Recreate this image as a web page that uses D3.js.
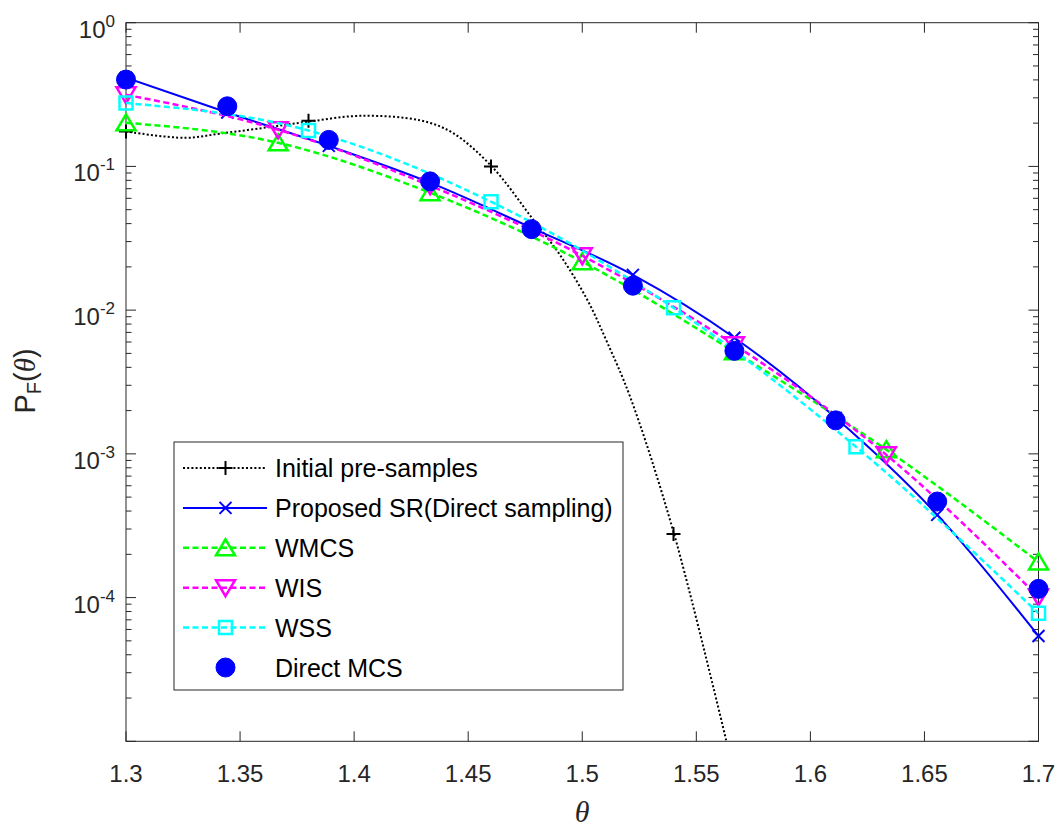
<!DOCTYPE html>
<html>
<head>
<meta charset="utf-8">
<script src="https://cdn.jsdelivr.net/npm/d3@7"></script>
<style>
  body { margin: 0; background: #fff; }
  svg { display: block; font-family: "Liberation Sans", Arial, sans-serif; }
</style>
</head>
<body>
<div id="chart"></div>
<script>
// ---- data ----
// Direct MCS / Proposed SR share the same theta grid
const thetaMCS = [1.3, 1.3444, 1.3889, 1.4333, 1.4778, 1.5222, 1.5667, 1.6111, 1.6556, 1.7];
const pfMCS = [0.402, 0.262, 0.153, 0.0787, 0.0366, 0.0148, 0.00521, 0.00171, 4.66e-4, 1.15e-4];
const pfSR = [0.414, 0.237, 0.139, 0.0771, 0.0374, 0.0176, 0.00643, 0.00178, 3.76e-4, 5.41e-5];

// WMCS / WIS grid
const thetaW = [1.3, 1.3667, 1.4333, 1.5, 1.5667, 1.6333, 1.7];
const pfWMCS = [0.201, 0.146, 0.0656, 0.0217, 0.00513, 0.00107, 1.77e-4];
const pfWIS = [0.315, 0.18, 0.0735, 0.0239, 0.00574, 9.84e-4, 1.01e-4];

// WSS grid (same as the pre-samples)
const thetaSS = [1.3, 1.38, 1.46, 1.54, 1.62, 1.7];
const pfWSS = [0.276, 0.178, 0.0568, 0.0104, 0.00112, 7.78e-5];

// initial pre-samples: markers and the dotted curve
const thetaPre = [1.3, 1.38, 1.46, 1.54];
const pfPre = [0.175, 0.208, 0.1, 2.77e-4];
const thetaPreCurve = [1.3, 1.326, 1.341, 1.362, 1.381, 1.403, 1.429, 1.443, 1.4605, 1.4785, 1.4904, 1.5022, 1.511, 1.521, 1.54, 1.5632];
const pfPreCurve = [0.175, 0.158, 0.169, 0.187, 0.206, 0.225, 0.209, 0.172, 0.0993, 0.0426, 0.024, 0.0118, 0.00593, 0.00249, 2.86e-4, 1e-5];

const xTicks = [1.3, 1.35, 1.4, 1.45, 1.5, 1.55, 1.6, 1.65, 1.7];
const yDecades = [-5, -4, -3, -2, -1, 0];

const legendLabels = ["Initial pre-samples", "Proposed SR(Direct sampling)", "WMCS", "WIS", "WSS", "Direct MCS"];

// ---- layout ----
const width = 1063;
const height = 831;
const plot = { left: 126, right: 1038.5, top: 22.7, bottom: 741.3 };
const axisColor = "#262626";

const svg = d3
  .select("#chart")
  .append("svg")
  .attr("width", width)
  .attr("height", height);

const x = d3.scaleLinear().domain([1.3, 1.7]).range([plot.left, plot.right]);
const y = d3.scaleLog().domain([1e-5, 1]).range([plot.bottom, plot.top]);

// ---- axes (drawn under the data, as in the figure) ----
const axisG = svg.append("g");

axisG
  .append("rect")
  .attr("x", plot.left)
  .attr("y", plot.top)
  .attr("width", plot.right - plot.left)
  .attr("height", plot.bottom - plot.top)
  .attr("fill", "none")
  .attr("stroke", axisColor)
  .attr("stroke-width", 1);

// x ticks, inside, bottom and top
xTicks.forEach((t) => {
  const px = x(t);
  axisG.append("line").attr("x1", px).attr("x2", px).attr("y1", plot.bottom).attr("y2", plot.bottom - 10)
    .attr("stroke", axisColor);
  axisG.append("line").attr("x1", px).attr("x2", px).attr("y1", plot.top).attr("y2", plot.top + 10)
    .attr("stroke", axisColor);
  axisG
    .append("text")
    .attr("x", px)
    .attr("y", 782)
    .attr("text-anchor", "middle")
    .attr("font-size", 24)
    .attr("fill", axisColor)
    .text(String(+t.toFixed(2)));
});

// y ticks: majors at decades, minors at 2..9
yDecades.forEach((k) => {
  const py = y(Math.pow(10, k));
  axisG.append("line").attr("x1", plot.left).attr("x2", plot.left + 10).attr("y1", py).attr("y2", py)
    .attr("stroke", axisColor);
  axisG.append("line").attr("x1", plot.right).attr("x2", plot.right - 10).attr("y1", py).attr("y2", py)
    .attr("stroke", axisColor);
  if (k < 0) {
    for (let m = 2; m <= 9; m++) {
      const my = y(m * Math.pow(10, k));
      axisG.append("line").attr("x1", plot.left).attr("x2", plot.left + 5.5).attr("y1", my).attr("y2", my)
        .attr("stroke", axisColor);
      axisG.append("line").attr("x1", plot.right).attr("x2", plot.right - 5.5).attr("y1", my).attr("y2", my)
        .attr("stroke", axisColor);
    }
  }
  // the 10^-5 at the bottom has no label in the figure
  if (k > -5) {
    const lab = axisG
      .append("text")
      .attr("x", 115)
      .attr("y", py + 15)
      .attr("text-anchor", "end")
      .attr("fill", axisColor)
      .attr("font-size", 24);
    lab.append("tspan").text("10");
    lab.append("tspan").attr("dy", -11).attr("font-size", 17).text(String(k));
  }
});

// axis labels
const yLab = svg
  .append("text")
  .attr("transform", "translate(35,381) rotate(-90)")
  .attr("text-anchor", "middle")
  .attr("fill", axisColor)
  .attr("font-size", 29);
yLab.append("tspan").text("P");
yLab.append("tspan").attr("font-size", 20).attr("dy", 6).text("F");
yLab.append("tspan").attr("dy", -6).text("(");
yLab.append("tspan").attr("font-family", "Liberation Serif, serif").attr("font-style", "italic").text("θ");
yLab.append("tspan").text(")");

svg
  .append("text")
  .attr("x", 582)
  .attr("y", 822)
  .attr("text-anchor", "middle")
  .attr("font-family", "Liberation Serif, serif")
  .attr("font-style", "italic")
  .attr("font-size", 30)
  .attr("fill", axisColor)
  .text("θ");

// ---- series ----
svg
  .append("clipPath")
  .attr("id", "plot-clip")
  .append("rect")
  .attr("x", plot.left)
  .attr("y", plot.top)
  .attr("width", plot.right - plot.left)
  .attr("height", plot.bottom - plot.top);

// marker shapes, centred on 0,0
const markerPath = {
  plus: "M-7,0H7M0,-7V7",
  cross: "M-6,-6L6,6M-6,6L6,-6",
  triUp: "M0,-8.5L9.5,7.5L-9.5,7.5Z",
  triDown: "M0,8.5L9.5,-7.5L-9.5,-7.5Z",
  square: "M-6.5,-6.5H6.5V6.5H-6.5Z",
};

const series = [
  { label: legendLabels[0], lx: thetaPreCurve, ly: pfPreCurve, mx: thetaPre, my: pfPre,
    color: "#000000", width: 2, dash: "2,2.2", marker: "plus", mWidth: 2, curve: d3.curveCatmullRom },
  { label: legendLabels[1], lx: thetaMCS, ly: pfSR, mx: thetaMCS, my: pfSR,
    color: "#0000ff", width: 2, dash: null, marker: "cross", mWidth: 2, curve: d3.curveMonotoneX },
  { label: legendLabels[2], lx: thetaW, ly: pfWMCS, mx: thetaW, my: pfWMCS,
    color: "#00ff00", width: 2.5, dash: "6,3.5", marker: "triUp", mWidth: 2.5, curve: d3.curveMonotoneX },
  { label: legendLabels[3], lx: thetaW, ly: pfWIS, mx: thetaW, my: pfWIS,
    color: "#ff00ff", width: 2.5, dash: "6,3.5", marker: "triDown", mWidth: 2.5, curve: d3.curveMonotoneX },
  { label: legendLabels[4], lx: thetaSS, ly: pfWSS, mx: thetaSS, my: pfWSS,
    color: "#00ffff", width: 2.5, dash: "6,3.5", marker: "square", mWidth: 2.5, curve: d3.curveMonotoneX },
  { label: legendLabels[5], lx: null, ly: null, mx: thetaMCS, my: pfMCS,
    color: "#0000ff", width: 0, dash: null, marker: "circle", mWidth: 1, curve: null },
];

function drawMarker(g, s, px, py) {
  if (s.marker === "circle") {
    g.append("circle")
      .attr("cx", px)
      .attr("cy", py)
      .attr("r", 9.5)
      .attr("fill", s.color)
      .attr("stroke", s.color)
      .attr("stroke-width", 1);
  } else {
    g.append("path")
      .attr("transform", `translate(${px},${py})`)
      .attr("d", markerPath[s.marker])
      .attr("fill", "none")
      .attr("stroke", s.color)
      .attr("stroke-width", s.mWidth)
      .attr("stroke-linejoin", "miter");
  }
}

series.forEach((s) => {
  const g = svg.append("g");
  if (s.lx) {
    const pts = s.lx.map((t, i) => [t, s.ly[i]]);
    const lineGen = d3
      .line()
      .x((d) => x(d[0]))
      .y((d) => y(d[1]))
      .curve(s.curve);
    g.append("path")
      .datum(pts)
      .attr("clip-path", "url(#plot-clip)")
      .attr("d", lineGen)
      .attr("fill", "none")
      .attr("stroke", s.color)
      .attr("stroke-width", s.width)
      .attr("stroke-dasharray", s.dash);
  }
  s.mx.forEach((t, i) => {
    if (s.my[i] < 1e-5) return;
    drawMarker(g, s, x(t), y(s.my[i]));
  });
});

// ---- legend ----
const legend = { x0: 174, y0: 442, x1: 623, y1: 690 };
const legG = svg.append("g");
legG
  .append("rect")
  .attr("x", legend.x0)
  .attr("y", legend.y0)
  .attr("width", legend.x1 - legend.x0)
  .attr("height", legend.y1 - legend.y0)
  .attr("fill", "#fff")
  .attr("stroke", axisColor)
  .attr("stroke-width", 1);

series.forEach((s, i) => {
  const ry = 468 + i * 39.9;
  if (s.width > 0) {
    legG
      .append("line")
      .attr("x1", 183)
      .attr("x2", 267)
      .attr("y1", ry)
      .attr("y2", ry)
      .attr("stroke", s.color)
      .attr("stroke-width", s.width)
      .attr("stroke-dasharray", s.dash);
  }
  drawMarker(legG, s, 225.5, ry);
  legG
    .append("text")
    .attr("x", 275)
    .attr("y", ry + 9)
    .attr("font-size", 25)
    .attr("fill", "#000")
    .text(s.label);
});
</script>
</body>
</html>
